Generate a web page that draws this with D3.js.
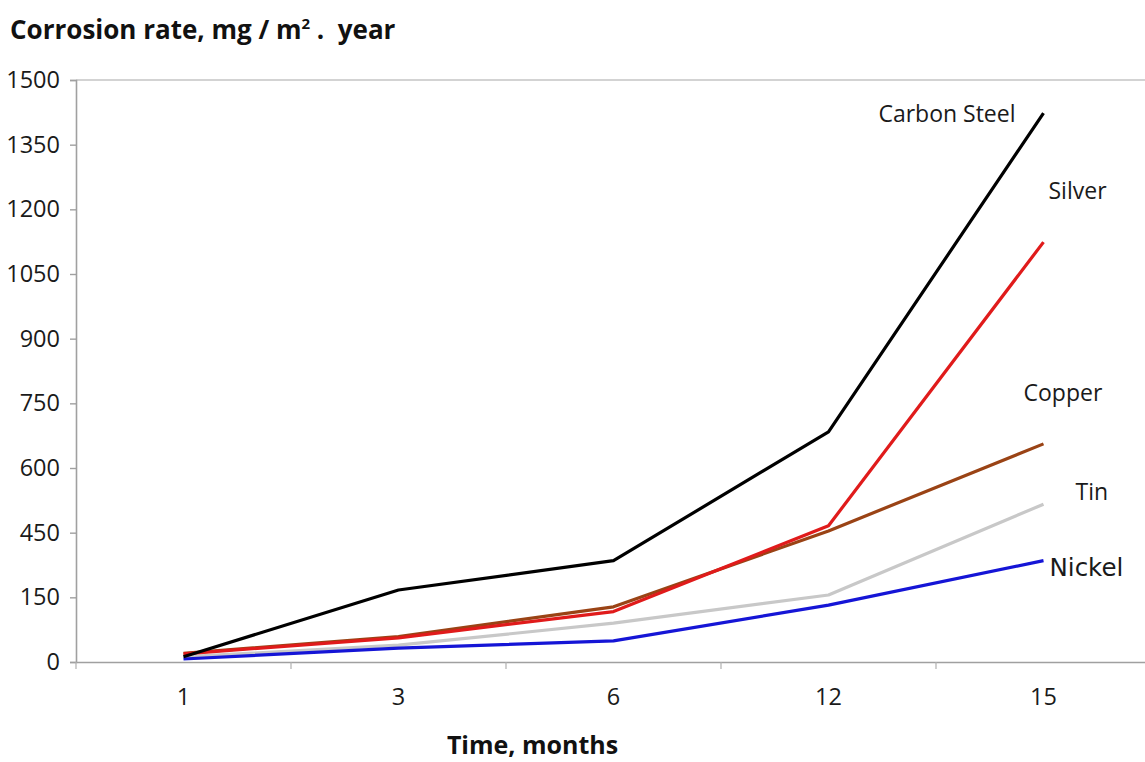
<!DOCTYPE html>
<html>
<head>
<meta charset="utf-8">
<script src="https://cdn.jsdelivr.net/npm/d3@7"></script>
<style>
  body { margin: 0; background: #fff; }
  svg { display: block; font-family: "Open Sans", sans-serif; }
</style>
</head>
<body>
<svg id="chart" width="1145" height="762"></svg>
<script>
// time axis categories (months)
var months = ["1", "3", "6", "12", "15"];
// y axis tick labels as printed on the chart (the 300 step is missing in the original)
var yTicks = [0, 150, 450, 600, 750, 900, 1050, 1200, 1350, 1500];

// corrosion rate per metal, mg / m2 . year
var seriesNames = ["Carbon Steel", "Silver", "Copper", "Tin", "Nickel"];
var carbonSteel = [12, 184, 320, 684, 1423];
var silver = [19, 56, 117, 466, 1124];
var copper = [20, 59, 128, 454, 656];
var tin = [12, 39, 90, 161, 516];
var nickel = [7, 32, 49, 132, 320];

var style = {
	left: 76, right: 1151, top: 80, bottom: 662,
	colors: { "Carbon Steel": "#000000", "Silver": "#e01b1b", "Copper": "#9a4315", "Tin": "#c8c8c8", "Nickel": "#1515d6" },
	// label offset from the last point of each line: dx, dy, anchor
	labels: {
		"Carbon Steel": [-28, 9, "end"],
		"Silver": [5, -43, "start"],
		"Copper": [-20, -43, "start"],
		"Tin": [32, -4, "start"],
		"Nickel": [6, 15, "start"]
	}
};

var series = [carbonSteel, silver, copper, tin, nickel].map(function (vals, i) {
	return { name: seriesNames[i], values: vals };
});
// draw order: lowest first so the darker lines stay on top
var drawOrder = ["Tin", "Nickel", "Copper", "Silver", "Carbon Steel"];

var svg = d3.select("#chart");

var x = d3.scaleBand().domain(months).range([style.left, style.right]).padding(0);
var y = d3.scaleLinear()
	.domain(yTicks)
	.range(yTicks.map(function (d, i) {
		return style.bottom - i * (style.bottom - style.top) / (yTicks.length - 1);
	}));

// frame top line
svg.append("line")
	.attr("x1", style.left).attr("x2", style.right)
	.attr("y1", style.top).attr("y2", style.top)
	.attr("stroke", "#c4c4c4").attr("stroke-width", 1.6);

// y axis
var yAxis = svg.append("g")
	.attr("transform", "translate(" + style.left + ",0)")
	.call(d3.axisLeft(y).tickValues(yTicks).tickFormat(d3.format("d")).tickSize(6).tickPadding(10));
yAxis.select(".domain").attr("stroke", "#a0a0a0").attr("stroke-width", 1.6);
yAxis.selectAll(".tick line").attr("stroke", "#a0a0a0").attr("stroke-width", 1.4);
yAxis.selectAll("text")
	.attr("fill", "#1a1a1a").style("font-size", "23.5px").style("font-family", "'Open Sans', sans-serif");

// x axis: labels in band centres, ticks on band edges
var xAxis = svg.append("g")
	.attr("transform", "translate(0," + style.bottom + ")")
	.call(d3.axisBottom(x).tickSize(0).tickPadding(26));
xAxis.select(".domain").attr("stroke", "#a0a0a0").attr("stroke-width", 1.6);
xAxis.selectAll("text")
	.attr("fill", "#1a1a1a").style("font-size", "23.5px").style("font-family", "'Open Sans', sans-serif");
xAxis.selectAll(".edge")
	.data(months)
	.enter().append("line")
	.attr("class", "edge")
	.attr("x1", function (d) { return x(d); })
	.attr("x2", function (d) { return x(d); })
	.attr("y1", 0).attr("y2", 7)
	.attr("stroke", "#b0b0b0").attr("stroke-width", 1.2);

var line = d3.line()
	.x(function (d, i) { return x(months[i]) + x.bandwidth() / 2; })
	.y(function (d) { return y(d); });

var byName = {};
series.forEach(function (s) { byName[s.name] = s; });

svg.append("g").selectAll("path")
	.data(drawOrder.map(function (n) { return byName[n]; }))
	.enter().append("path")
	.attr("d", function (s) { return line(s.values); })
	.attr("fill", "none")
	.attr("stroke", function (s) { return style.colors[s.name]; })
	.attr("stroke-width", 3.2)
	.attr("stroke-linejoin", "round");

// line labels next to the last point
svg.append("g").selectAll("text")
	.data(series)
	.enter().append("text")
	.attr("x", function (s) { return x(months[months.length - 1]) + x.bandwidth() / 2 + style.labels[s.name][0]; })
	.attr("y", function (s) { return y(s.values[s.values.length - 1]) + style.labels[s.name][1]; })
	.attr("text-anchor", function (s) { return style.labels[s.name][2]; })
	.attr("fill", "#1a1a1a")
	.style("font-size", function (s) { return s.name === "Nickel" ? "24.5px" : "23px"; })
	.style("font-family", function (s) { return s.name === "Nickel" ? "'DejaVu Sans', sans-serif" : "'Open Sans', sans-serif"; })
	.text(function (s) { return s.name; });

// titles
var title = svg.append("text")
	.attr("x", 10).attr("y", 39)
	.attr("fill", "#111")
	.style("font-size", "26px").style("font-weight", "bold");
title.append("tspan").text("Corrosion rate, mg / m");
title.append("tspan").attr("dy", -10).style("font-size", "15px").text("2");
title.append("tspan").attr("dy", 10).attr("xml:space", "preserve").text(" .  year");

svg.append("text")
	.attr("x", (x.range()[0] + x.range()[1]) / 2 - 81).attr("y", 754)
	.attr("text-anchor", "middle")
	.attr("fill", "#111")
	.style("font-size", "25px").style("font-weight", "bold")
	.text("Time, months");
</script>
</body>
</html>
